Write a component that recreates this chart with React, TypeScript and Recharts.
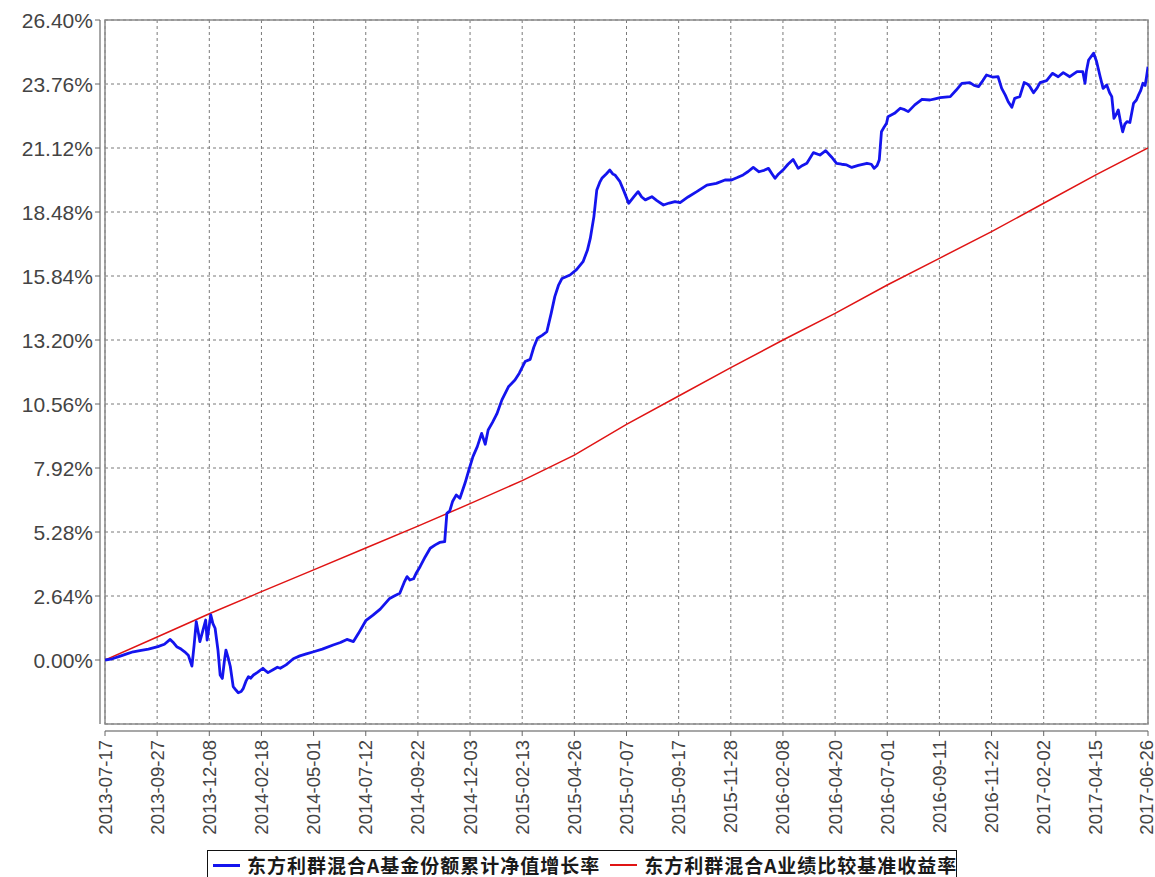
import React from 'react';
import * as R from 'recharts';

const { LineChart, Line, XAxis, YAxis, CartesianGrid, Legend } = R as any;

// ---------- data ----------
const startDate = '2013-07-17';

const tickLabels = [
  '2013-07-17', '2013-09-27', '2013-12-08', '2014-02-18', '2014-05-01', '2014-07-12',
  '2014-09-22', '2014-12-03', '2015-02-13', '2015-04-26', '2015-07-07', '2015-09-17',
  '2015-11-28', '2016-02-08', '2016-04-20', '2016-07-01', '2016-09-11', '2016-11-22',
  '2017-02-02', '2017-04-15', '2017-06-26',
];

const yTicks = [0, 2.64, 5.28, 7.92, 10.56, 13.2, 15.84, 18.48, 21.12, 23.76, 26.4];

const seriesNames = ['东方利群混合A基金份额累计净值增长率', '东方利群混合A业绩比较基准收益率'];
const seriesColors = ['#1414ee', '#e01414'];

// days since start date
const navDays = [
  0, 10, 20, 30, 39, 50, 60, 73, 82, 90,
  95, 99, 105, 110, 115, 120, 123, 126, 129, 131,
  135, 139, 141, 146, 149, 152, 156, 159, 162, 165,
  167, 170, 173, 177, 181, 184, 188, 191, 195, 198,
  201, 205, 211, 218, 222, 225, 232, 238, 242, 250,
  260, 269, 278, 288, 300, 315, 325, 334, 343, 350,
  360, 370, 380, 393, 400, 407, 413, 417, 421, 426,
  430, 435, 442, 449, 456, 462, 469, 472, 476, 480,
  485, 490, 497, 503, 508, 514, 520, 525, 529, 535,
  541, 548, 557, 566, 572, 580, 587, 592, 597, 604,
  610, 616, 621, 626, 631, 642, 651, 660, 666, 670,
  675, 679, 683, 686, 692, 697, 701, 704, 711, 717,
  723, 730, 736, 741, 746, 755, 762, 771, 779, 787,
  794, 805, 817, 831, 844, 856, 865, 873, 881, 888,
  895, 903, 910, 916, 921, 925, 930, 936, 943, 950,
  957, 963, 969, 978, 987, 995, 1003, 1010, 1017, 1024,
  1031, 1040, 1052, 1058, 1062, 1066, 1069, 1072, 1076, 1079,
  1081, 1090, 1098, 1104, 1109, 1118, 1128, 1139, 1146, 1153,
  1167, 1175, 1183, 1194, 1200, 1206, 1212, 1217, 1226, 1233,
  1238, 1243, 1247, 1252, 1256, 1263, 1269, 1274, 1277, 1282,
  1287, 1291, 1300, 1308, 1316, 1323, 1332, 1342, 1350, 1353,
  1355, 1358, 1365, 1369, 1374, 1378, 1383, 1387, 1390, 1393,
  1396, 1399, 1402, 1405, 1408, 1411, 1415, 1420, 1424, 1427,
  1430, 1433, 1436, 1438, 1440,
];

const navValues = [
  0.00, 0.05, 0.15, 0.25, 0.34, 0.40, 0.45, 0.55, 0.65, 0.85,
  0.70, 0.55, 0.45, 0.34, 0.20, -0.25, 0.60, 1.58, 1.10, 0.76,
  1.20, 1.65, 0.82, 1.86, 1.50, 1.31, 0.40, -0.62, -0.76, 0.00,
  0.41, 0.10, -0.27, -1.10, -1.25, -1.35, -1.30, -1.17, -0.85, -0.69,
  -0.75, -0.62, -0.50, -0.34, -0.45, -0.52, -0.40, -0.30, -0.34, -0.20,
  0.05, 0.17, 0.25, 0.34, 0.45, 0.62, 0.72, 0.85, 0.76, 1.10,
  1.62, 1.85, 2.10, 2.54, 2.65, 2.75, 3.20, 3.44, 3.30, 3.35,
  3.60, 3.85, 4.25, 4.61, 4.75, 4.85, 4.88, 6.05, 6.15, 6.55,
  6.81, 6.67, 7.29, 7.90, 8.39, 8.80, 9.35, 8.90, 9.49, 9.80,
  10.15, 10.73, 11.27, 11.55, 11.83, 12.31, 12.40, 12.90, 13.27, 13.40,
  13.54, 14.30, 14.99, 15.45, 15.74, 15.88, 16.10, 16.43, 16.90, 17.39,
  18.29, 19.39, 19.70, 19.87, 20.05, 20.21, 20.05, 20.01, 19.73, 19.30,
  18.84, 19.10, 19.32, 19.10, 18.98, 19.11, 18.95, 18.77, 18.85, 18.91,
  18.87, 19.10, 19.32, 19.59, 19.66, 19.80, 19.80, 19.90, 20.01, 20.15,
  20.32, 20.14, 20.20, 20.28, 20.05, 19.87, 20.05, 20.21, 20.45, 20.65,
  20.28, 20.40, 20.49, 20.93, 20.83, 21.01, 20.75, 20.49, 20.45, 20.42,
  20.32, 20.40, 20.49, 20.45, 20.28, 20.40, 20.63, 21.79, 22.00, 22.14,
  22.41, 22.55, 22.76, 22.70, 22.62, 22.90, 23.13, 23.10, 23.15, 23.20,
  23.24, 23.50, 23.79, 23.82, 23.70, 23.65, 23.90, 24.13, 24.04, 24.06,
  23.58, 23.30, 23.03, 22.80, 23.17, 23.24, 23.82, 23.75, 23.65, 23.40,
  23.60, 23.82, 23.90, 24.20, 24.06, 24.23, 24.06, 24.27, 24.27, 23.79,
  24.30, 24.75, 25.03, 24.69, 24.06, 23.58, 23.72, 23.40, 23.24, 22.34,
  22.50, 22.69, 22.20, 21.79, 22.10, 22.21, 22.17, 22.96, 23.10, 23.31,
  23.50, 23.79, 23.70, 24.06, 24.47,
];

const benchDays = [0, 72, 144, 216, 288, 360, 432, 504, 576, 648, 720, 792, 864, 936, 1008, 1080, 1152, 1224, 1296, 1368, 1440];
const benchValues = [0, 0.95, 1.91, 2.82, 3.72, 4.62, 5.52, 6.45, 7.40, 8.45, 9.72, 10.89, 12.06, 13.2, 14.3, 15.47, 16.57, 17.67, 18.84, 20.01, 21.12];

// ---------- derived ----------
const DAY = 86400000;
const dayOf = (s: string) => Math.round((Date.parse(s + 'T00:00:00Z') - Date.parse(startDate + 'T00:00:00Z')) / DAY);
const xTicks = tickLabels.map(dayOf);
const labelFor = (d: number) => {
  const i = xTicks.indexOf(d);
  return i >= 0 ? tickLabels[i] : '';
};

const navData = navDays.map((d, i) => ({ d, v: navValues[i] }));
const benchData = benchDays.map((d, i) => ({ d, v: benchValues[i] }));

const CHART_W = 1155;
const AXIS_FONT = '"Liberation Sans", Arial, sans-serif';
const FRAME = '#8a8a8a';

// ---------- pieces ----------
function Frame() {
  const pa = (R as any).usePlotArea ? (R as any).usePlotArea() : undefined;
  const x = pa?.x ?? 105;
  const y = pa?.y ?? 20;
  const w = pa?.width ?? 1043;
  const h = pa?.height ?? 704;
  return (
    <g>
      <rect x={x} y={y} width={w} height={h} fill="none" stroke={FRAME} strokeWidth={1.5} />
      <line x1={x - 5} y1={y} x2={x - 5} y2={y + h} stroke={FRAME} strokeWidth={1.5} />
      <line x1={x} y1={y + h + 7} x2={x + w} y2={y + h + 7} stroke={FRAME} strokeWidth={1.5} />
    </g>
  );
}

const YTick = (props: any) => {
  const { x, y, payload } = props;
  return (
    <g>
      <line x1={x - 10} x2={x - 5} y1={y} y2={y} stroke="#666" strokeWidth={1} />
      <text
        x={x - 12}
        y={y}
        textAnchor="end"
        dominantBaseline="central"
        fontSize={21}
        fontFamily={AXIS_FONT}
        fill="#444"
      >
        {Number(payload.value).toFixed(2)}%
      </text>
    </g>
  );
};

const XTick = (props: any) => {
  const { x, y, payload } = props;
  const ay = y + 16;
  const tx = Math.min(x, CHART_W - 9);
  return (
    <g>
      <line x1={x} x2={x} y1={y + 7} y2={y + 12} stroke="#666" strokeWidth={1} />
      <text
        x={tx}
        y={ay}
        transform={`rotate(-90, ${tx}, ${ay})`}
        textAnchor="end"
        dominantBaseline="central"
        fontSize={18.5}
        fontFamily={AXIS_FONT}
        fill="#444"
      >
        {labelFor(payload.value)}
      </text>
    </g>
  );
};

const LegendBox = () => (
  <div
    style={{
      border: '1.5px solid #111',
      boxSizing: 'border-box',
      height: 30,
      width: 750,
      display: 'flex',
      alignItems: 'center',
      paddingLeft: 5,
      background: '#fff',
    }}
  >
    {seriesNames.map((n, i) => (
      <span key={n} style={{ display: 'flex', alignItems: 'center', marginRight: i === 0 ? 10 : 0 }}>
        <span
          style={{
            display: 'inline-block',
            width: 27,
            height: 0,
            borderTop: `${i === 0 ? 3 : 2}px solid ${seriesColors[i]}`,
            marginRight: 7,
          }}
        />
        <span
          style={{
            fontFamily: '"Noto Sans CJK SC", sans-serif',
            fontWeight: 700,
            fontSize: 19,
            letterSpacing: 1,
            color: '#1a1a1a',
            whiteSpace: 'nowrap',
            lineHeight: '20px',
          }}
        >
          {n}
        </span>
      </span>
    ))}
  </div>
);

export default function App() {
  return (
    <div
      style={{
        position: 'absolute',
        left: 0,
        top: 0,
        width: CHART_W,
        height: 877,
        overflow: 'hidden',
        background: '#fff',
      }}
    >
      <LineChart width={CHART_W} height={877} margin={{ top: 20, right: 7, bottom: 0, left: 0 }}>
        <CartesianGrid stroke="#7a7a7a" strokeDasharray="3 3" strokeWidth={1} />
        <XAxis
          type="number"
          dataKey="d"
          domain={[0, 1440]}
          ticks={xTicks}
          interval={0}
          height={153}
          axisLine={false}
          tickLine={false}
          tickSize={0}
          tickMargin={0}
          tick={<XTick />}
          allowDataOverflow
        />
        <YAxis
          type="number"
          domain={[-2.64, 26.4]}
          ticks={yTicks}
          interval={0}
          width={105}
          axisLine={false}
          tickLine={false}
          tickSize={0}
          tickMargin={0}
          tick={<YTick />}
          allowDataOverflow
        />
        <Frame />
        <Line
          data={benchData}
          dataKey="v"
          name={seriesNames[1]}
          type="linear"
          stroke={seriesColors[1]}
          strokeWidth={1.5}
          dot={false}
          activeDot={false}
          isAnimationActive={false}
        />
        <Line
          data={navData}
          dataKey="v"
          name={seriesNames[0]}
          type="linear"
          stroke={seriesColors[0]}
          strokeWidth={2.8}
          strokeLinejoin="round"
          dot={false}
          activeDot={false}
          isAnimationActive={false}
        />
        <Legend
          layout="horizontal"
          verticalAlign="middle"
          align="center"
          content={<LegendBox />}
          wrapperStyle={{ left: 207, top: 850, width: 750, height: 30 }}
        />
      </LineChart>
    </div>
  );
}
